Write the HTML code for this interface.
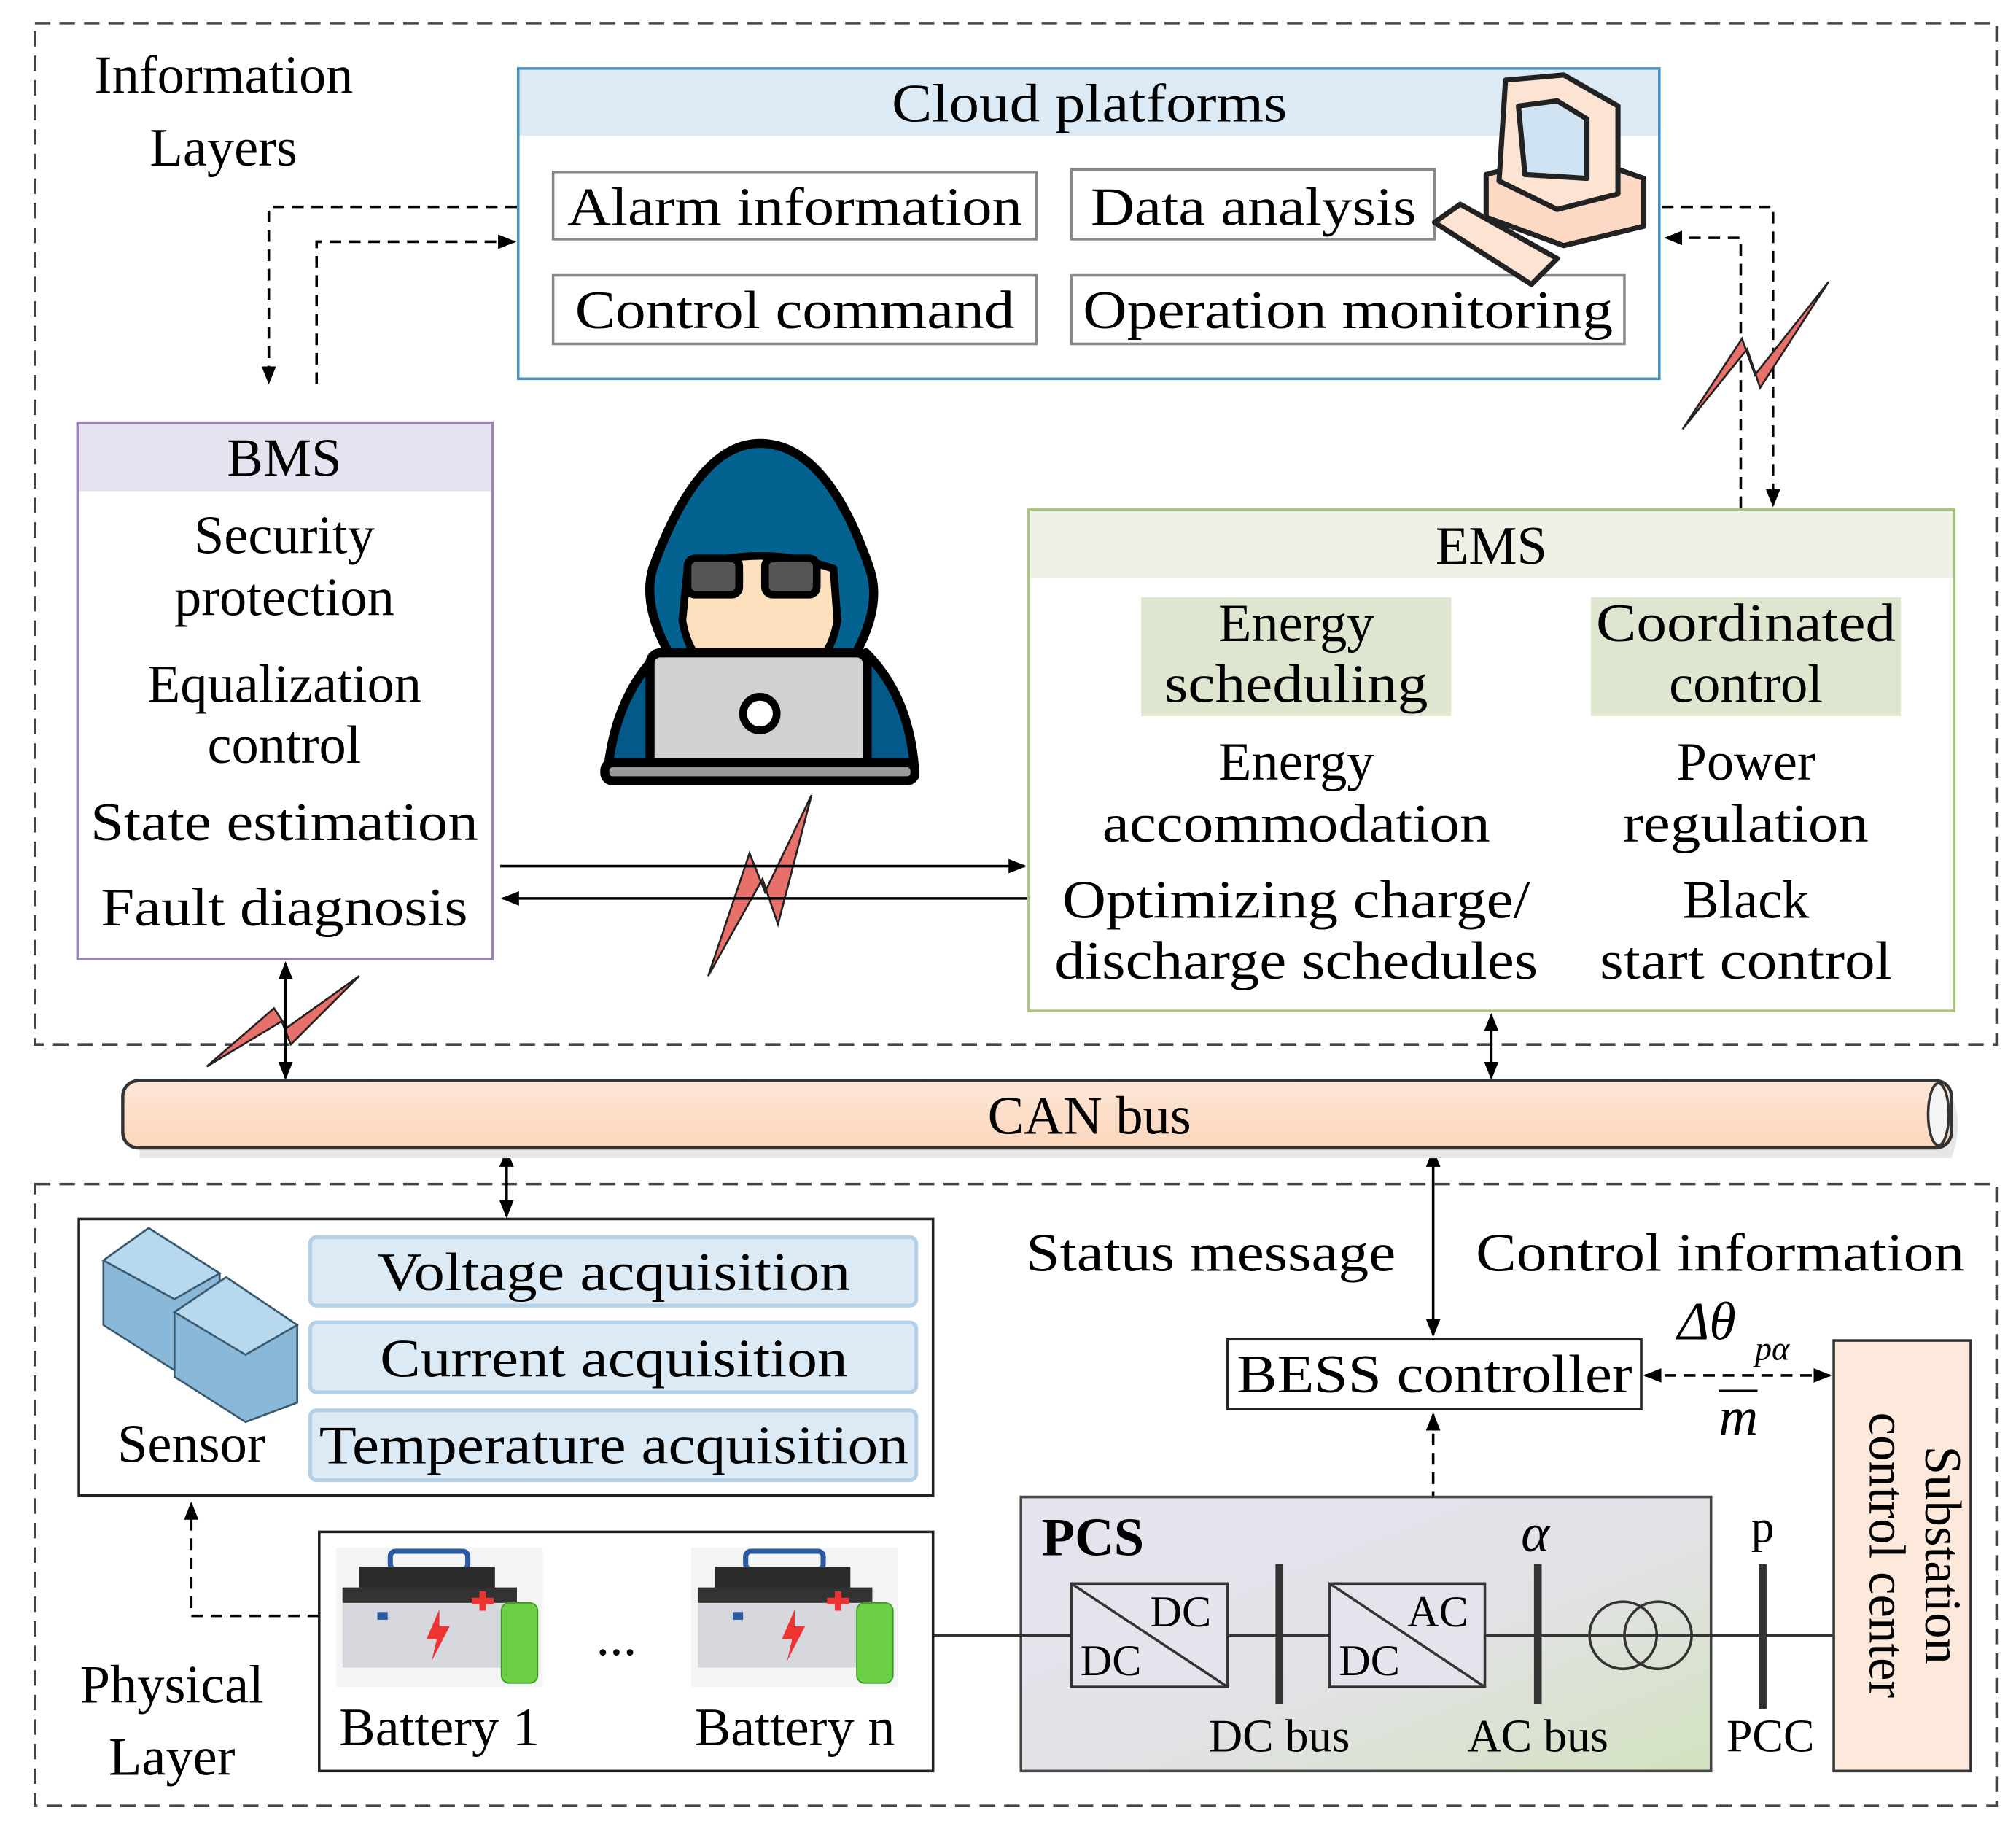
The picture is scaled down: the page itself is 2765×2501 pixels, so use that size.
<!DOCTYPE html>
<html><head><meta charset="utf-8"><style>html,body{margin:0;padding:0;background:#fff}svg{display:block}svg text{font-family:"Liberation Serif","Times New Roman",serif}</style></head>
<body>
<svg width="2765" height="2501" viewBox="0 0 1560 1411" preserveAspectRatio="none" xmlns="http://www.w3.org/2000/svg" style="font-family:'Liberation Serif',serif" font-size="42" fill="#000">
<defs>
<marker id="a" viewBox="0 0 10 10" refX="9" refY="5" markerWidth="7" markerHeight="7" orient="auto-start-reverse"><path d="M0,1 L10,5 L0,9 z" fill="#000"/></marker>
<linearGradient id="pcs" x1="0" y1="0" x2="1" y2="1"><stop offset="0" stop-color="#e6e3ef"/><stop offset="0.55" stop-color="#e2e2e6"/><stop offset="1" stop-color="#d3e2bf"/></linearGradient>
<linearGradient id="can" x1="0" y1="0" x2="0" y2="1"><stop offset="0" stop-color="#fde6d6"/><stop offset="1" stop-color="#fbd6bc"/></linearGradient>
</defs>
<rect x="27" y="18" width="1518" height="790" fill="none" stroke="#444" stroke-width="2" stroke-dasharray="12,7"/>
<rect x="27" y="916" width="1518" height="481" fill="none" stroke="#444" stroke-width="2" stroke-dasharray="12,7"/>
<text x="173" y="72" text-anchor="middle">Information</text>
<text x="173" y="128" text-anchor="middle">Layers</text>
<rect x="401" y="53" width="883" height="240" fill="#fff" stroke="#4a90c0" stroke-width="2"/>
<rect x="402" y="54" width="881" height="51" fill="#dbeaf4"/>
<text x="843" y="94" text-anchor="middle" textLength="306" lengthAdjust="spacingAndGlyphs">Cloud platforms</text>
<g fill="#fff" stroke="#888" stroke-width="2">
<rect x="428" y="133" width="374" height="52"/><rect x="829" y="131" width="281" height="54"/>
<rect x="428" y="213" width="374" height="53"/><rect x="829" y="213" width="428" height="53"/></g>
<text x="615" y="174" text-anchor="middle" textLength="352" lengthAdjust="spacingAndGlyphs">Alarm information</text>
<text x="970" y="174" text-anchor="middle" textLength="252" lengthAdjust="spacingAndGlyphs">Data analysis</text>
<text x="615" y="254" text-anchor="middle" textLength="340" lengthAdjust="spacingAndGlyphs">Control command</text>
<text x="1043" y="254" text-anchor="middle" textLength="410" lengthAdjust="spacingAndGlyphs">Operation monitoring</text>
<!-- computer -->
<g stroke="#222" stroke-width="4" stroke-linejoin="round">
<path d="M1150,135 L1215,118 L1272,138 L1272,175 L1210,190 L1150,168 Z" fill="#fcd9c4"/>
<path d="M1165,62 L1210,58 L1252,82 L1252,150 L1205,162 L1160,140 Z" fill="#fde3d2"/>
<path d="M1175,82 L1205,78 L1228,92 L1228,138 L1180,135 Z" fill="#cfe3f3"/>
<path d="M1110,172 L1130,158 L1205,200 L1185,220 Z" fill="#fde3d2"/>
</g>
<g fill="none" stroke="#000" stroke-width="2" stroke-dasharray="9,6">
<path d="M400,160 H208 V296" marker-end="url(#a)"/>
<path d="M245,297 V187 H398" marker-end="url(#a)"/>
<path d="M1286,160 H1372 V391" marker-end="url(#a)"/>
<path d="M1347,393 V184 H1289" marker-end="url(#a)"/>
</g>
<path d="M1415,218 L1362,300 L1352,270 L1302,332 L1348,262 L1358,290 Z" fill="#e8706a" stroke="#222" stroke-width="1.5"/>
<path d="M628,615 L602,715 L590,680 L548,755 L580,660 L592,690 Z" fill="#e8706a" stroke="#222" stroke-width="1.5"/>
<path d="M278,755 L225,808 L218,790 L160,825 L212,780 L222,795 Z" fill="#e8706a" stroke="#222" stroke-width="1.5"/>
<rect x="60" y="327" width="321" height="415" fill="#fff" stroke="#9b82b8" stroke-width="2"/>
<rect x="61" y="328" width="319" height="52" fill="#e6e2ef"/>
<text x="220" y="368" text-anchor="middle">BMS</text>
<text x="220" y="428" text-anchor="middle">Security</text>
<text x="220" y="476" text-anchor="middle">protection</text>
<text x="220" y="543" text-anchor="middle">Equalization</text>
<text x="220" y="590" text-anchor="middle">control</text>
<text x="220" y="650" text-anchor="middle" textLength="300" lengthAdjust="spacingAndGlyphs">State estimation</text>
<text x="220" y="716" text-anchor="middle" textLength="284" lengthAdjust="spacingAndGlyphs">Fault diagnosis</text>
<!-- hacker -->
<g stroke="#000" stroke-width="7" stroke-linejoin="round">
<path d="M470,600 Q475,540 510,505 L540,520 L640,520 L670,505 Q705,540 708,600 Z" fill="#035a8a"/>
<path d="M588,343 Q540,343 505,440 Q495,475 530,525 L650,525 Q685,475 673,440 Q640,343 588,343 Z" fill="#03628f"/>
<path d="M532,440 Q588,420 645,440 L648,480 Q640,528 588,530 Q536,528 528,480 Z" fill="#fde0bd" stroke-width="6"/>
<rect x="532" y="432" width="40" height="28" rx="6" fill="#555" stroke-width="6"/>
<rect x="592" y="432" width="40" height="28" rx="6" fill="#555" stroke-width="6"/>
<rect x="503" y="505" width="168" height="90" rx="8" fill="#d1d1d1"/>
<circle cx="588" cy="552" r="13" fill="#fff" stroke-width="6"/>
<rect x="468" y="590" width="240" height="14" rx="6" fill="#999"/>
</g>
<line x1="387" y1="670" x2="793" y2="670" stroke="#000" stroke-width="2" marker-end="url(#a)"/>
<line x1="795" y1="695" x2="389" y2="695" stroke="#000" stroke-width="2" marker-end="url(#a)"/>
<rect x="796" y="394" width="716" height="388" fill="#fff" stroke="#a9c47f" stroke-width="2"/>
<rect x="797" y="395" width="714" height="52" fill="#eef2e6"/>
<text x="1154" y="436" text-anchor="middle">EMS</text>
<rect x="883" y="462" width="240" height="92" fill="#dfe6cf"/>
<rect x="1231" y="462" width="240" height="92" fill="#dfe6cf"/>
<text x="1003" y="496" text-anchor="middle">Energy</text>
<text x="1003" y="543" text-anchor="middle" textLength="204" lengthAdjust="spacingAndGlyphs">scheduling</text>
<text x="1351" y="496" text-anchor="middle" textLength="232" lengthAdjust="spacingAndGlyphs">Coordinated</text>
<text x="1351" y="543" text-anchor="middle">control</text>
<text x="1003" y="603" text-anchor="middle">Energy</text>
<text x="1003" y="651" text-anchor="middle" textLength="300" lengthAdjust="spacingAndGlyphs">accommodation</text>
<text x="1003" y="710" text-anchor="middle" textLength="362" lengthAdjust="spacingAndGlyphs">Optimizing charge/</text>
<text x="1003" y="757" text-anchor="middle" textLength="374" lengthAdjust="spacingAndGlyphs">discharge schedules</text>
<text x="1351" y="603" text-anchor="middle">Power</text>
<text x="1351" y="651" text-anchor="middle" textLength="190" lengthAdjust="spacingAndGlyphs">regulation</text>
<text x="1351" y="710" text-anchor="middle">Black</text>
<text x="1351" y="757" text-anchor="middle" textLength="226" lengthAdjust="spacingAndGlyphs">start control</text>
<g stroke="#000" stroke-width="2" marker-start="url(#a)" marker-end="url(#a)">
<line x1="221" y1="745" x2="221" y2="834"/>
<line x1="1154" y1="785" x2="1154" y2="834"/>
<line x1="392" y1="890" x2="392" y2="941"/>
<line x1="1109" y1="890" x2="1109" y2="1033"/>
</g>
<path d="M108,846 H1510 Q1520,870 1510,896 H108 Z" fill="#e6e6e6"/>
<rect x="95" y="836" width="1415" height="52" rx="12" fill="url(#can)" stroke="#333" stroke-width="2.5"/>
<ellipse cx="1500" cy="862" rx="8" ry="24" fill="#f4f4f4" stroke="#333" stroke-width="2"/>
<text x="843" y="877" text-anchor="middle">CAN bus</text>
<rect x="61" y="943" width="661" height="214" fill="#fff" stroke="#222" stroke-width="2"/>
<g fill="#dbeaf4" stroke="#b3d0e6" stroke-width="3">
<rect x="240" y="957" width="469" height="53" rx="5"/><rect x="240" y="1023" width="469" height="54" rx="5"/><rect x="240" y="1091" width="469" height="54" rx="5"/></g>
<text x="475" y="998" text-anchor="middle" textLength="366" lengthAdjust="spacingAndGlyphs">Voltage acquisition</text>
<text x="475" y="1065" text-anchor="middle" textLength="362" lengthAdjust="spacingAndGlyphs">Current acquisition</text>
<text x="475" y="1132" text-anchor="middle" textLength="456" lengthAdjust="spacingAndGlyphs">Temperature acquisition</text>
<text x="148" y="1131" text-anchor="middle">Sensor</text>
<g stroke="#3a5a70" stroke-width="1.5">
<path d="M80,975 L115,950 L170,985 L170,1040 L135,1060 L80,1025 Z" fill="#8ab8d8"/>
<path d="M80,975 L115,950 L170,985 L135,1005 Z" fill="#b8d8ee"/>
<path d="M135,1015 L175,988 L230,1025 L230,1085 L190,1100 L135,1065 Z" fill="#8ab8d8"/>
<path d="M135,1015 L175,988 L230,1025 L190,1048 Z" fill="#b8d8ee"/>
</g>
<text x="937" y="983" text-anchor="middle" textLength="286" lengthAdjust="spacingAndGlyphs">Status message</text>
<text x="1331" y="983" text-anchor="middle" textLength="378" lengthAdjust="spacingAndGlyphs">Control information</text>
<rect x="950" y="1036" width="320" height="54" fill="#fff" stroke="#222" stroke-width="2"/>
<text x="1110" y="1077" text-anchor="middle" textLength="306" lengthAdjust="spacingAndGlyphs">BESS controller</text>
<text x="1298" y="1036" font-style="italic">Δθ</text>
<text x="1358" y="1052" font-style="italic" font-size="26">pα</text>
<text x="1330" y="1110" font-style="italic">m</text>
<line x1="1330" y1="1076" x2="1360" y2="1076" stroke="#000" stroke-width="2"/>
<line x1="1273" y1="1064" x2="1416" y2="1064" stroke="#000" stroke-width="2" stroke-dasharray="9,6" marker-start="url(#a)" marker-end="url(#a)"/>
<line x1="1109" y1="1094" x2="1109" y2="1210" stroke="#000" stroke-width="2" stroke-dasharray="9,6" marker-start="url(#a)" marker-end="url(#a)"/>
<rect x="1419" y="1037" width="106" height="333" fill="#fde8dc" stroke="#333" stroke-width="2"/>
<text transform="translate(1490,1203) rotate(90)" text-anchor="middle" font-size="40">Substation</text>
<text transform="translate(1447,1203) rotate(90)" text-anchor="middle" font-size="40">control center</text>
<rect x="790" y="1158" width="534" height="212" fill="url(#pcs)" stroke="#444" stroke-width="2"/>
<text x="806" y="1203" font-weight="bold">PCS</text>
<line x1="694" y1="1265" x2="1418" y2="1265" stroke="#333" stroke-width="2"/>
<g fill="#e5e3ec" stroke="#333" stroke-width="2">
<rect x="829" y="1225" width="121" height="80"/><rect x="1029" y="1225" width="120" height="80"/></g>
<line x1="829" y1="1225" x2="950" y2="1305" stroke="#333" stroke-width="2"/>
<line x1="1029" y1="1225" x2="1149" y2="1305" stroke="#333" stroke-width="2"/>
<g font-size="34"><text x="890" y="1258">DC</text><text x="836" y="1296">DC</text>
<text x="1089" y="1258">AC</text><text x="1036" y="1296">DC</text></g>
<g stroke="#333" stroke-width="6"><line x1="990" y1="1210" x2="990" y2="1318"/><line x1="1190" y1="1210" x2="1190" y2="1318"/><line x1="1364" y1="1210" x2="1364" y2="1322"/></g>
<circle cx="1256" cy="1265" r="26" fill="none" stroke="#333" stroke-width="2"/>
<circle cx="1283" cy="1265" r="26" fill="none" stroke="#333" stroke-width="2"/>
<text x="1188" y="1200" text-anchor="middle" font-style="italic">α</text>
<text x="1364" y="1193" text-anchor="middle" font-size="36">p</text>
<g font-size="36" text-anchor="middle"><text x="990" y="1355">DC bus</text><text x="1190" y="1355">AC bus</text><text x="1370" y="1355">PCC</text></g>
<rect x="247" y="1185" width="475" height="185" fill="#fff" stroke="#222" stroke-width="2"/>
<g id="bat">
<rect x="260" y="1197" width="160" height="108" fill="#f4f4f4"/>
<rect x="302" y="1200" width="60" height="14" rx="4" fill="none" stroke="#2a5aa0" stroke-width="4"/>
<rect x="278" y="1212" width="105" height="18" fill="#2a2a2a"/>
<rect x="265" y="1228" width="135" height="12" fill="#333"/>
<rect x="265" y="1240" width="130" height="50" fill="#d6d8de"/>
<rect x="292" y="1247" width="8" height="6" fill="#2a5aa0"/>
<path d="M365,1236 h6 v-5 h5 v5 h6 v5 h-6 v5 h-5 v-5 h-6 z" fill="#e33"/>
<path d="M340,1245 L330,1268 L338,1268 L334,1285 L348,1258 L340,1258 Z" fill="#e33"/>
<rect x="388" y="1240" width="28" height="62" rx="6" fill="#6cd046" stroke="#3a9a20"/>
</g>
<use href="#bat" transform="translate(275,0)"/>
<text x="477" y="1280" text-anchor="middle">...</text>
<text x="340" y="1350" text-anchor="middle">Battery 1</text>
<text x="615" y="1350" text-anchor="middle">Battery n</text>
<path d="M247,1250 H148 V1163" fill="none" stroke="#000" stroke-width="2" stroke-dasharray="9,6" marker-end="url(#a)"/>
<text x="133" y="1317" text-anchor="middle">Physical</text>
<text x="133" y="1373" text-anchor="middle">Layer</text>
</svg>
</body></html>
